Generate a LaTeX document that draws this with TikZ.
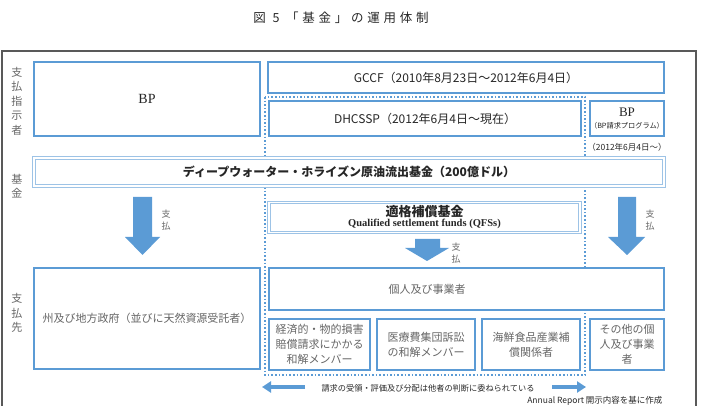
\documentclass[tikz,border=0pt]{standalone}
\usepackage{fontspec}
\setmainfont{Noto Sans CJK JP}
\newfontfamily\latserif{Liberation Serif}
\newfontfamily\titlefont[LetterSpace=30]{Noto Sans CJK JP}
\usetikzlibrary{arrows.meta}
\definecolor{rimblue}{HTML}{5B9BD5}
\definecolor{paleblue}{HTML}{9DC3E6}
\definecolor{inkgray}{HTML}{666666}
\definecolor{inkdark}{HTML}{262626}
\newcommand\fsz[2]{\fontsize{#1}{#2}\selectfont}
\tikzset{
  box/.style={draw=rimblue,line width=2.4pt,fill=white,inner sep=1pt,align=center,text=inkdark},
  fundbox/.style={draw=paleblue,double,double distance=1.3pt,line width=0.9pt,fill=white,align=center,text=inkdark},
  graybox/.style={box,text=inkgray,font=\fsz{11}{15}},
  side/.style={align=center,text=inkgray,font=\fsz{11}{14.5}},
  paylabel/.style={align=center,text=inkgray,font=\fsz{9}{12}},
  payarrow/.style={fill=rimblue},
  flow/.style={draw=rimblue,line width=3.5pt,-{Triangle[length=9pt,width=11pt]}},
  dotline/.style={draw=rimblue,dotted,line width=1.6pt}
}

\begin{document}
\begin{tikzpicture}[x=1pt,y=-1pt]
\useasboundingbox (0,0) rectangle (702,406);
% title and frame
\node[font=\titlefont\fsz{12.5}{15},text=inkdark] (title) at (341,18) {図 5 「基金」の運用体制};
\draw[gray!70!black,line width=1.2pt] (2,406) -- (2,51) -- (696,51) -- (696,406);

% row labels
\node[side] (lpay) at (17,101) {支\\払\\指\\示\\者};
\node[side] (lfund) at (17,186) {基\\金};
\node[side] (ldest) at (17,313) {支\\払\\先};

% dotted frame round the claims facility
\draw[dotline] (265,97) rectangle (585,375);

% payers
\node[box,minimum width=226,minimum height=74,font=\latserif\fsz{14}{16}] (bpl) at (147,99) {BP};
\node[box,minimum width=396,minimum height=31,font=\fsz{12}{14}] (gccf) at (466,77.5) {GCCF（2010年8月23日～2012年6月4日）};
\node[box,minimum width=312,minimum height=35,font=\fsz{12}{14}] (dhcssp) at (425,118.5) {DHCSSP（2012年6月4日～現在）};
\node[box,inner sep=0pt,minimum width=74,minimum height=35,font=\latserif\fsz{13}{13}] (bpr) at (627,118.5) {BP\\[-1pt]{\rmfamily\fsz{7.2}{9}（BP請求プログラム）}};
\node[text=inkdark,font=\fsz{8.5}{10}] (since) at (627,147) {（2012年6月4日～）};

% fund
\node[fundbox,minimum width=630,minimum height=28,font=\bfseries\fsz{12}{14}] (fund) at (349,172) {ディープウォーター・ホライズン原油流出基金（200億ドル）};
\node[fundbox,minimum width=311,minimum height=29] (qfs) at (424.5,217.5)
  {{\bfseries\fsz{13}{14}適格補償基金}\\[-2pt]{\latserif\bfseries\fsz{10.5}{11}Qualified settlement funds (QFSs)}};

% payments
\fill[payarrow] (133,197) -- (152,197) -- (152,237) -- (160,237) -- (142.5,255) -- (125,237) -- (133,237) -- cycle;
\fill[payarrow] (415,239) -- (440,239) -- (440,248) -- (449,248) -- (427,261) -- (405,248) -- (415,248) -- cycle;
\fill[payarrow] (618,197) -- (636,197) -- (636,237) -- (645,237) -- (627,255) -- (608,237) -- (618,237) -- cycle;
\node[paylabel] (pay1) at (166,220) {支\\払};
\node[paylabel] (pay2) at (456,253) {支\\払};
\node[paylabel] (pay3) at (650,220) {支\\払};

% recipients
\node[graybox,minimum width=226,minimum height=101] (govt) at (147,318.5) {州及び地方政府（並びに天然資源受託者）};
\node[graybox,minimum width=395,minimum height=42] (indiv) at (466.5,289) {};
\node[text=inkgray,font=\fsz{11}{15}] (indivtext) at (427,289) {個人及び事業者};
\node[graybox,minimum width=101,minimum height=51] (econ) at (319.5,344.5) {経済的・物的損害\\賠償請求にかかる\\和解メンバー};
\node[graybox,minimum width=98,minimum height=51] (med) at (426,344.5) {医療費集団訴訟\\の和解メンバー};
\node[graybox,minimum width=98,minimum height=51] (sea) at (531,344.5) {海鮮食品産業補\\償関係者};
\node[graybox,minimum width=74,minimum height=51] (other) at (627,344.5) {その他の個\\人及び事業\\者};

% note under the facility
\coordinate (lt) at (305,387);
\coordinate (lh) at (262,387);
\coordinate (rt) at (552,387);
\coordinate (rh) at (586,387);
\draw[flow] (lt) -- (lh);
\draw[flow] (rt) -- (rh);
\node[text=inkdark,font=\fsz{8.2}{10}] (judge) at (428,388) {請求の受領・評価及び分配は他者の判断に委ねられている};
\node[text=inkdark,font=\fsz{8.5}{10},anchor=east] (src) at (666,401) {Annual Report 開示内容を基に作成};
\end{tikzpicture}
\end{document}
